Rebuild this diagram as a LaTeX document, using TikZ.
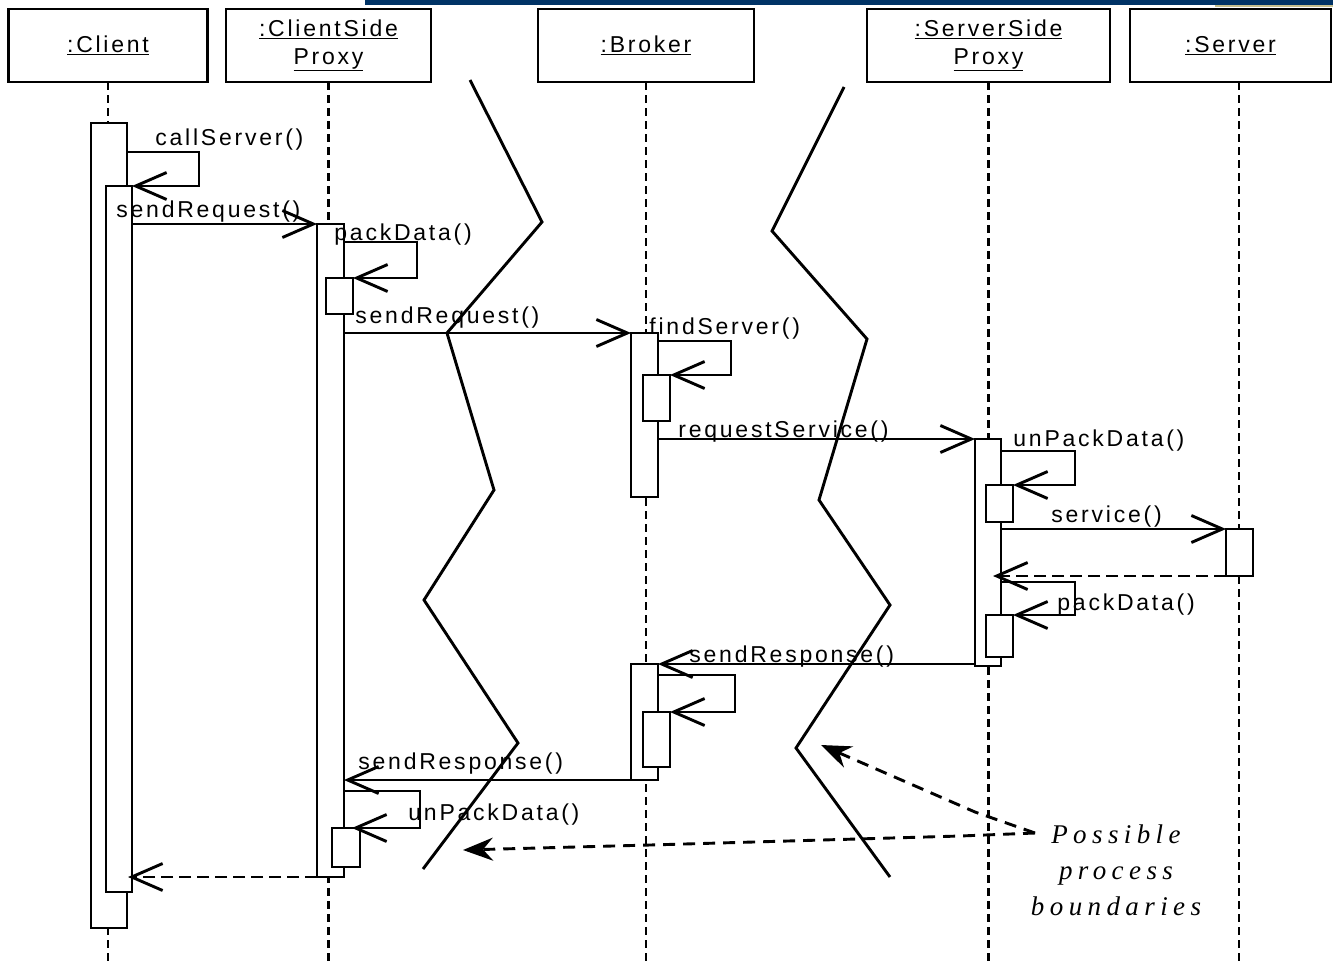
\documentclass[tikz,border=0pt]{standalone}
\usepackage{fontspec}
\usetikzlibrary{arrows.meta,calc}
\newfontfamily\umlfont[LetterSpace=12]{Liberation Sans}
\newfontfamily\notefont[LetterSpace=20]{Liberation Serif}
\definecolor{barnavy}{HTML}{003366}
\definecolor{bartan}{HTML}{C4BE8E}
\begin{document}
\begin{tikzpicture}[x=1pt,y=-1pt,
  line width=2.9pt,
  hdr/.style={draw, fill=white, inner sep=0pt, outer sep=0pt, align=center,
    font=\umlfont\fontsize{23}{28}\selectfont},
  act/.style={draw, fill=white, inner sep=0pt, outer sep=0pt, anchor=north west},
  life/.style={dash pattern=on 8pt off 5pt},
  msg/.style={-{Straight Barb[length=31pt,width=27pt]}},
  reply/.style={msg, dash pattern=on 12pt off 6pt},
  lbl/.style={font=\umlfont\fontsize{23}{25}\selectfont, inner sep=0pt, anchor=base west},
  note/.style={dash pattern=on 12pt off 8pt, -{Stealth[length=30pt,width=23pt,inset=10pt]}},
  boundary/.style={line join=miter}
]
\useasboundingbox (0,0) rectangle (1333,964);

% window strip along the top
\fill[barnavy] (365,0) rectangle (1333,5);
\fill[bartan] (1215,5) rectangle (1333,7);

% object headers
\node[hdr, minimum width=199pt, minimum height=73pt] (client) at (108,45.5) {\underline{:Client}};
\node[hdr, minimum width=205pt, minimum height=73pt] (csp) at (328.5,45.5) {\underline{:ClientSide}\\\underline{Proxy}};
\node[hdr, minimum width=216pt, minimum height=73pt] (broker) at (646,45.5) {\underline{:Broker}};
\node[hdr, minimum width=243pt, minimum height=73pt] (ssp) at (988.5,45.5) {\underline{:ServerSide}\\\underline{Proxy}};
\node[hdr, minimum width=201pt, minimum height=73pt] (server) at (1230.5,45.5) {\underline{:Server}};

% lifelines
\draw[life] (client.south) -- (client.south |- 0,964);
\draw[life] (csp.south) -- (csp.south |- 0,964);
\draw[life] (broker.south) -- (broker.south |- 0,964);
\draw[life] (ssp.south) -- (ssp.south |- 0,964);
\draw[life] ($(server.south)+(8.5,0)$) -- ($(server.south |- 0,964)+(8.5,0)$);

% process boundaries
\draw[boundary] (470,80) -- (542,222) -- (447,333) -- (494,490) -- (424,600) -- (518,743) -- (423,869);
\draw[boundary] (844,87) -- (772,231) -- (867,339) -- (819,500) -- (890,605) -- (796,748) -- (890,877);

% activation bars
\node[act, minimum width=36pt, minimum height=805pt] (clA) at (91,123) {};
\node[act, minimum width=26pt, minimum height=706pt] (clB) at (106,186) {};
\node[act, minimum width=27pt, minimum height=653pt] (cspA) at (317,224) {};
\node[act, minimum width=27pt, minimum height=36pt] (cspB) at (326,278) {};
\node[act, minimum width=28pt, minimum height=39pt] (cspC) at (332,828) {};
\node[act, minimum width=27pt, minimum height=164pt] (brA) at (631,333) {};
\node[act, minimum width=27pt, minimum height=46pt] (brB) at (643,375) {};
\node[act, minimum width=27pt, minimum height=116pt] (brC) at (631,664) {};
\node[act, minimum width=27pt, minimum height=55pt] (brD) at (643,712) {};
\node[act, minimum width=26pt, minimum height=227pt] (sspA) at (975,439) {};
\node[act, minimum width=27pt, minimum height=37pt] (sspB) at (986,485) {};
\node[act, minimum width=27pt, minimum height=42pt] (sspC) at (986,615) {};
\node[act, minimum width=27pt, minimum height=47pt] (srvA) at (1226,529) {};

% messages
\draw[msg] (clA.east |- 0,152) -| (199,186) -- (clB.north east);
\draw[msg] (clB.east |- cspA.north) -- (cspA.north west);
\draw[msg] (cspA.east |- 0,242) -| (417,278) -- (cspB.north east);
\draw[msg] (cspA.east |- brA.north) -- (brA.north west);
\draw[msg] (brA.east |- 0,341) -| (731,375) -- (brB.north east);
\draw[msg] (brA.east |- sspA.north) -- (sspA.north west);
\draw[msg] (sspA.east |- 0,451) -| (1075,485) -- (sspB.north east);
\draw[msg] (sspA.east |- srvA.north) -- (srvA.north west);
\draw[reply] (srvA.south west) -- ($(sspA.east |- srvA.south west)+(-8,0)$);
\draw[msg] (sspA.east |- 0,582) -| (1075,615) -- (sspC.north east);
\draw[msg] (sspA.west |- brC.north) -- (brC.north east);
\draw[msg] (brC.east |- 0,675) -| (735,712) -- (brD.north east);
\draw[msg] (brC.south west) -- (cspA.east |- brC.south west);
\draw[msg] (cspA.east |- 0,791) -| (420,828) -- ($(cspC.north east)+(-8,0)$);
\draw[reply] (cspA.south west) -- ($(clB.east |- cspA.south west)+(-4,0)$);

% message labels
\node[lbl] (m1) at (154,145) {callServer()};
\node[lbl] (m2) at (115,217) {sendRequest()};
\node[lbl] (m3) at (333,240) {packData()};
\node[lbl] (m4) at (354,323) {sendRequest()};
\node[lbl] (m5) at (648,334) {findServer()};
\node[lbl] (m6) at (677,437) {requestService()};
\node[lbl] (m7) at (1012,446) {unPackData()};
\node[lbl] (m8) at (1050,522) {service()};
\node[lbl] (m9) at (1056,610) {packData()};
\node[lbl] (m10) at (688,662) {sendResponse()};
\node[lbl] (m11) at (357,769) {sendResponse()};
\node[lbl] (m12) at (407,820) {unPackData()};

% annotation
\node[inner sep=0pt, anchor=north, align=center,
  font=\notefont\itshape\fontsize{27}{36}\selectfont] (pnote) at (1116,823)
  {Possible\\process\\boundaries};
\coordinate (nstart) at (1035,833);
\draw[note] (nstart) -- (975,812) -- (821,745);
\draw[note] (nstart) -- (960,836) -- (650,845) -- (463,850);
\end{tikzpicture}
\end{document}
